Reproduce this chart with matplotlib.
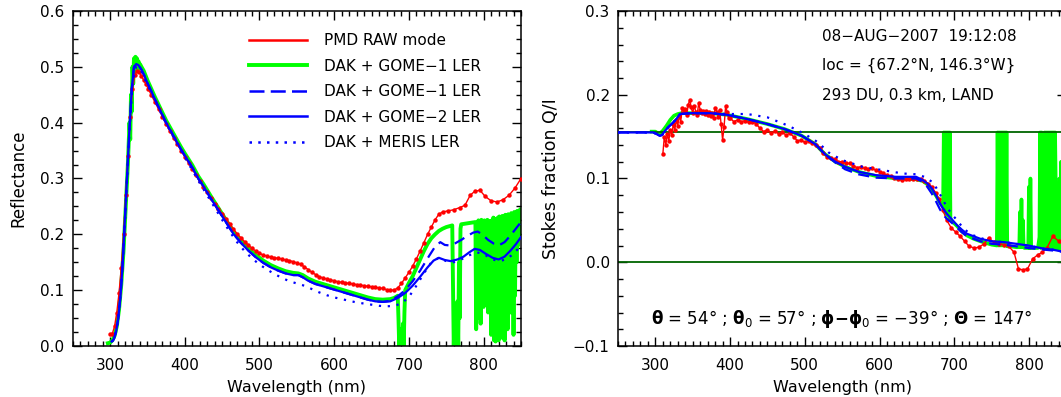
import numpy as np
import matplotlib
matplotlib.use("Agg")
import matplotlib.pyplot as plt
from matplotlib.ticker import MultipleLocator
from matplotlib.lines import Line2D

# ---------------- Left panel: reflectance ----------------
pmd_wl = [300, 303, 306, 309, 312, 315, 318, 321, 324, 327, 330, 333, 336, 339, 342, 345,
          348, 351, 355, 360, 365, 370, 375, 380, 385, 390, 395, 400, 405, 410, 415, 420,
          425, 430, 435, 440, 445, 450, 455, 460, 465, 470, 475, 480, 485, 490, 495, 500,
          505, 510, 515, 520, 525, 530, 535, 540, 545, 550, 555, 560, 565, 570, 575, 580,
          585, 590, 595, 600, 605, 610, 615, 620, 625, 630, 635, 640, 645, 650, 655, 660,
          665, 670, 675, 680, 685, 690, 695, 700, 705, 710, 715, 720, 725, 730, 735, 740,
          745, 752, 760, 768, 775, 782, 788, 795, 802, 810, 818, 826, 834, 842, 850]
pmd_refl = [0.022, 0.022, 0.035, 0.06, 0.095, 0.14, 0.2, 0.27, 0.34, 0.41, 0.46, 0.485, 0.492, 0.49, 0.484, 0.476,
            0.469, 0.461, 0.45, 0.437, 0.424, 0.411, 0.397, 0.385, 0.373, 0.361, 0.35, 0.339, 0.328, 0.317, 0.306, 0.295,
            0.285, 0.275, 0.265, 0.255, 0.246, 0.237, 0.228, 0.219, 0.21, 0.201, 0.194, 0.187, 0.181, 0.175, 0.17, 0.166,
            0.163, 0.161, 0.159, 0.158, 0.157, 0.156, 0.154, 0.153, 0.151, 0.149, 0.146, 0.142, 0.137, 0.132, 0.128, 0.124,
            0.122, 0.12, 0.118, 0.117, 0.115, 0.114, 0.113, 0.112, 0.111, 0.11, 0.109, 0.108, 0.107, 0.106, 0.105, 0.104,
            0.103, 0.101, 0.1, 0.1, 0.104, 0.112, 0.122, 0.132, 0.143, 0.156, 0.17, 0.185, 0.2, 0.213, 0.226, 0.236,
            0.24, 0.242, 0.244, 0.248, 0.252, 0.27, 0.277, 0.279, 0.268, 0.26, 0.258, 0.262, 0.27, 0.283, 0.3]

g1_wl = [297, 300, 303, 306, 309, 312, 315, 318, 321, 324, 326, 327, 328, 329, 330, 331, 332, 333, 334, 335,
         336, 337, 338, 339, 340, 342, 345, 350, 355, 360, 365, 370, 375, 380, 385, 390, 395, 400, 410, 418,
         425, 435, 445, 455, 465, 475, 485, 495, 505, 515, 525, 535, 545, 552, 558, 565, 575, 585, 595, 605,
         615, 625, 635, 645, 655, 665, 675, 680, 684, 685, 686, 687, 688, 689, 690, 691, 692, 693, 694, 695,
         700, 705, 710, 715, 720, 725, 730, 735, 740, 745, 750, 755, 758, 759, 760, 761, 762, 763, 764, 765,
         766, 767, 768, 769, 770, 775, 780, 785, 789,
         790, 791, 792, 793, 794, 795, 796, 797, 798, 799, 800, 801, 802, 803, 804, 805, 806, 807, 808, 809,
         810, 811, 812, 813, 814, 815, 816, 817, 818, 819, 820, 821, 822, 823, 824, 825, 826, 827, 828, 829,
         830, 831, 832, 833, 834, 835, 836, 837, 838, 839, 840, 841, 842, 843, 844, 845, 846, 847, 848, 849, 850]
g1_refl = [0.005, 0.006, 0.01, 0.018, 0.035, 0.065, 0.11, 0.17, 0.25, 0.33, 0.4, 0.37, 0.45, 0.42, 0.5, 0.47, 0.515, 0.49, 0.518, 0.5,
           0.515, 0.495, 0.51, 0.497, 0.505, 0.5, 0.493, 0.476, 0.461, 0.446, 0.432, 0.418, 0.404, 0.392, 0.38, 0.368, 0.356, 0.345, 0.324, 0.304,
           0.29, 0.268, 0.247, 0.226, 0.205, 0.189, 0.175, 0.163, 0.153, 0.145, 0.139, 0.134, 0.131, 0.13, 0.127, 0.121, 0.115, 0.111, 0.107, 0.103,
           0.099, 0.095, 0.091, 0.087, 0.084, 0.083, 0.084, 0.086, 0.089, 0.09, 0.05, 0.0, 0.03, 0.0, 0.01, 0.0, 0.04, 0.0, 0.06, 0.1,
           0.113, 0.125, 0.14, 0.155, 0.17, 0.183, 0.193, 0.2, 0.206, 0.21, 0.213, 0.215, 0.216, 0.1, 0.0, 0.05, 0.0, 0.02, 0.0, 0.08,
           0.0, 0.15, 0.05, 0.21, 0.218, 0.219, 0.22, 0.221, 0.222,
           0.03, 0.22, 0.05, 0.225, 0.09, 0.22, 0.04, 0.226, 0.15, 0.222, 0.07, 0.225, 0.12, 0.223, 0.18, 0.226, 0.06, 0.22, 0.1, 0.224,
           0.02, 0.225, 0.04, 0.23, 0.01, 0.228, 0.008, 0.226, 0.012, 0.23, 0.01, 0.232, 0.03, 0.228, 0.015, 0.233, 0.05, 0.23, 0.01, 0.235,
           0.08, 0.233, 0.03, 0.236, 0.1, 0.234, 0.06, 0.238, 0.12, 0.236, 0.02, 0.24, 0.09, 0.238, 0.15, 0.242, 0.18, 0.24, 0.2, 0.245, 0.23]

g2_wl = [302, 305, 308, 311, 314, 317, 320, 323, 326, 329, 332, 335, 338, 342, 346, 350, 355, 360, 365, 370,
         375, 380, 385, 390, 395, 400, 410, 418, 425, 435, 445, 455, 465, 475, 485, 495, 505, 515, 525, 535,
         545, 552, 558, 565, 575, 585, 595, 605, 615, 625, 635, 645, 655, 665, 675, 685, 695, 705, 715, 725,
         733, 740, 748, 756, 765, 773, 781, 788, 795, 803, 812, 820, 828, 836, 843, 850]
g2_refl = [0.008, 0.012, 0.025, 0.05, 0.09, 0.15, 0.23, 0.31, 0.39, 0.46, 0.5, 0.505, 0.503, 0.495, 0.484, 0.471, 0.457, 0.442, 0.428, 0.414,
           0.4, 0.388, 0.376, 0.364, 0.352, 0.341, 0.32, 0.3, 0.286, 0.264, 0.243, 0.222, 0.201, 0.185, 0.171, 0.159, 0.149, 0.141, 0.135, 0.13,
           0.127, 0.127, 0.123, 0.117, 0.111, 0.107, 0.103, 0.099, 0.095, 0.091, 0.087, 0.083, 0.08, 0.079, 0.08, 0.086, 0.095, 0.108, 0.124, 0.141,
           0.153, 0.158, 0.154, 0.152, 0.155, 0.16, 0.168, 0.174, 0.172, 0.165, 0.158, 0.155, 0.16, 0.171, 0.182, 0.195]

g1b_wl = [302, 305, 308, 311, 314, 317, 320, 323, 326, 329, 332, 335, 338, 342, 346, 350, 355, 360, 365, 370,
          375, 380, 385, 390, 395, 400, 410, 418, 425, 435, 445, 455, 465, 475, 485, 495, 505, 515, 525, 535,
          545, 552, 558, 565, 575, 585, 595, 605, 615, 625, 635, 645, 655, 665, 675, 685, 695, 705, 715, 725,
          735, 742, 748, 755, 762, 770, 778, 786, 792, 798, 806, 814, 820, 828, 836, 843, 850]
g1b_refl = [0.008, 0.012, 0.025, 0.05, 0.09, 0.15, 0.23, 0.31, 0.39, 0.46, 0.5, 0.505, 0.503, 0.495, 0.484, 0.471, 0.457, 0.442, 0.428, 0.414,
            0.4, 0.388, 0.376, 0.364, 0.352, 0.341, 0.32, 0.3, 0.286, 0.264, 0.243, 0.222, 0.201, 0.185, 0.171, 0.159, 0.149, 0.141, 0.135, 0.13,
            0.127, 0.127, 0.123, 0.117, 0.111, 0.107, 0.103, 0.099, 0.095, 0.091, 0.087, 0.083, 0.08, 0.079, 0.081, 0.089, 0.1, 0.116, 0.135, 0.157,
            0.178, 0.186, 0.181, 0.18, 0.184, 0.19, 0.197, 0.203, 0.205, 0.2, 0.19, 0.183, 0.18, 0.186, 0.198, 0.21, 0.222]

meris_wl = [302, 305, 310, 315, 320, 325, 330, 335, 340, 350, 360, 370, 380, 390, 400, 410, 420, 430, 440, 450,
            460, 470, 480, 490, 500, 510, 520, 530, 540, 550, 560, 570, 580, 590, 600, 610, 620, 630, 640, 650,
            660, 670, 680, 690, 700, 710, 720, 730, 740, 750, 760, 770, 780, 790, 800, 810, 820, 830, 840, 850]
meris_refl = [0.008, 0.01, 0.04, 0.11, 0.22, 0.36, 0.47, 0.5, 0.497, 0.468, 0.44, 0.412, 0.386, 0.362, 0.338, 0.315, 0.292, 0.27, 0.248, 0.226,
              0.205, 0.186, 0.17, 0.157, 0.146, 0.137, 0.129, 0.122, 0.116, 0.112, 0.108, 0.102, 0.096, 0.091, 0.087, 0.084, 0.081, 0.078, 0.076, 0.074,
              0.072, 0.071, 0.072, 0.076, 0.088, 0.108, 0.13, 0.15, 0.158, 0.152, 0.15, 0.155, 0.162, 0.168, 0.165, 0.156, 0.152, 0.155, 0.165, 0.18]

# ---------------- Right panel: Stokes fraction Q/I ----------------
pmd_q_wl = [310, 312, 314, 316, 318, 320, 322, 324, 326, 328, 330, 332, 334, 336, 338, 340, 342, 344, 346, 348,
            350, 352, 354, 356, 358, 360, 362, 364, 366, 368, 370, 372, 374, 376, 378, 380, 382, 384, 386, 388,
            390, 392, 394, 396, 398, 400, 405, 410, 415, 420, 425, 430, 435, 440, 445, 450, 455, 460, 465, 470,
            475, 480, 485, 490, 495, 500, 505, 510, 515, 520, 525, 530, 535, 540, 545, 550, 555, 560, 565, 570,
            575, 580, 585, 590, 595, 600, 605, 610, 615, 620, 625, 630, 635, 640, 645, 650, 655, 660, 665, 670,
            675, 680, 685, 690, 696, 702, 708, 714, 720, 727, 733, 740, 746, 753, 760, 767, 773, 780, 786, 792,
            798, 805, 812, 818, 824, 832, 840, 848]
pmd_q = [0.129, 0.15, 0.14, 0.153, 0.145, 0.158, 0.152, 0.165, 0.158, 0.17, 0.163, 0.175, 0.168, 0.184, 0.18, 0.183, 0.176, 0.188, 0.194, 0.185,
         0.178, 0.187, 0.18, 0.176, 0.19, 0.182, 0.178, 0.181, 0.177, 0.181, 0.176, 0.18, 0.175, 0.178, 0.172, 0.184, 0.18, 0.174, 0.182, 0.165,
         0.146, 0.162, 0.186, 0.18, 0.172, 0.172, 0.168, 0.17, 0.168, 0.169, 0.167, 0.168, 0.165, 0.16, 0.156, 0.158, 0.154, 0.157, 0.153, 0.155,
         0.152, 0.154, 0.15, 0.145, 0.146, 0.143, 0.145, 0.142, 0.14, 0.137, 0.13, 0.126, 0.124, 0.123, 0.12, 0.12, 0.118, 0.118, 0.115, 0.113,
         0.114, 0.112, 0.111, 0.112, 0.11, 0.108, 0.106, 0.104, 0.103, 0.101, 0.1, 0.098, 0.099, 0.1, 0.1, 0.1, 0.1, 0.097, 0.094, 0.09,
         0.083, 0.075, 0.062, 0.05, 0.041, 0.036, 0.031, 0.025, 0.019, 0.017, 0.018, 0.022, 0.029, 0.024, 0.022, 0.021, 0.019, 0.012, -0.008, -0.009,
         -0.008, 0.004, 0.009, 0.012, 0.017, 0.031, 0.025, 0.02]

q2_wl = [250, 297, 302, 306, 309, 313, 318, 324, 328, 333, 347, 374, 396, 423, 450, 473, 496, 514, 527, 541,
         554, 572, 595, 622, 649, 658, 664, 670, 676, 681, 686, 690, 697, 704, 710, 717, 726, 735, 750, 767,
         783, 799, 810, 821, 832, 843, 850]
q2_val = [0.155, 0.155, 0.153, 0.151, 0.152, 0.157, 0.162, 0.167, 0.171, 0.177, 0.178, 0.178, 0.176, 0.171, 0.165, 0.159, 0.151, 0.141, 0.129, 0.12,
          0.114, 0.108, 0.104, 0.102, 0.102, 0.098, 0.094, 0.088, 0.079, 0.07, 0.063, 0.058, 0.051, 0.044, 0.039, 0.034, 0.031, 0.028, 0.025, 0.024,
          0.022, 0.02, 0.018, 0.016, 0.015, 0.013, 0.012]

q1b_wl = [250, 297, 302, 306, 309, 313, 318, 324, 328, 333, 347, 374, 396, 423, 450, 473, 496, 514, 527, 541,
          554, 572, 595, 622, 649, 658, 664, 670, 676, 681, 686, 690, 697, 704, 710, 717, 726, 735, 750, 767,
          783, 799, 810, 821, 832, 843, 850]
q1b_val = [0.155, 0.155, 0.153, 0.151, 0.152, 0.157, 0.162, 0.167, 0.171, 0.177, 0.178, 0.178, 0.176, 0.171, 0.165, 0.159, 0.151, 0.141, 0.129, 0.119,
           0.111, 0.105, 0.101, 0.1, 0.1, 0.096, 0.09, 0.082, 0.072, 0.063, 0.056, 0.052, 0.047, 0.041, 0.036, 0.031, 0.028, 0.025, 0.022, 0.021,
           0.019, 0.017, 0.016, 0.015, 0.014, 0.013, 0.012]

qm_wl = [250, 297, 302, 306, 309, 313, 318, 324, 328, 333, 347, 374, 396, 423, 450, 478, 500, 518, 532, 550,
         577, 604, 631, 649, 660, 672, 681, 690, 697, 704, 710, 717, 726, 735, 750, 767, 783, 799, 810, 821,
         832, 843, 850]
qm_val = [0.155, 0.155, 0.153, 0.151, 0.152, 0.157, 0.162, 0.167, 0.171, 0.177, 0.178, 0.178, 0.177, 0.177, 0.173, 0.163, 0.153, 0.143, 0.131, 0.122,
          0.114, 0.11, 0.106, 0.105, 0.102, 0.095, 0.081, 0.066, 0.057, 0.05, 0.043, 0.037, 0.032, 0.029, 0.025, 0.024, 0.022, 0.02, 0.018, 0.016,
          0.015, 0.013, 0.012]

q1_wl = [295, 300, 305, 310, 315, 320, 325, 330, 335, 347, 374, 396, 423, 450, 473, 496, 514, 527, 541, 554,
         572, 595, 622, 649, 658, 664, 670, 676, 681, 685, 686, 687, 688, 689, 690, 691, 692, 693, 694, 695,
         697, 704, 710, 717, 726, 735, 750, 757, 758, 759, 760, 761, 762, 763, 764, 765, 766, 767, 768, 769,
         770, 771, 775, 783, 787, 788, 789, 790, 791, 792, 793, 794, 797, 799, 800, 801, 802, 803, 804, 808,
         812, 814, 815, 816, 817, 818, 819, 820, 821, 822, 823, 824, 825, 826, 827, 828, 829, 830, 831, 832,
         833, 834, 835, 837, 840, 841, 842, 843, 845, 846, 847, 850]
q1_val = [0.156, 0.156, 0.153, 0.157, 0.163, 0.17, 0.175, 0.177, 0.178, 0.178, 0.178, 0.176, 0.171, 0.165, 0.159, 0.151, 0.141, 0.129, 0.12, 0.114,
          0.108, 0.103, 0.1, 0.099, 0.097, 0.093, 0.087, 0.079, 0.071, 0.066, 0.155, 0.06, 0.155, 0.058, 0.155, 0.056, 0.155, 0.054, 0.155, 0.052,
          0.049, 0.043, 0.037, 0.032, 0.028, 0.025, 0.021, 0.02, 0.155, 0.02, 0.155, 0.02, 0.155, 0.02, 0.155, 0.02, 0.155, 0.02, 0.155, 0.02,
          0.155, 0.019, 0.019, 0.018, 0.018, 0.06, 0.018, 0.075, 0.018, 0.05, 0.018, 0.017, 0.017, 0.017, 0.09, 0.017, 0.1, 0.017, 0.017, 0.017,
          0.017, 0.03, 0.155, 0.017, 0.155, 0.02, 0.11, 0.017, 0.155, 0.05, 0.155, 0.016, 0.155, 0.03, 0.155, 0.016, 0.155, 0.08, 0.155, 0.016,
          0.155, 0.04, 0.155, 0.016, 0.015, 0.1, 0.015, 0.12, 0.015, 0.09, 0.014, 0.014]

ref_levels = [0.0, 0.155]

labels = ["PMD RAW mode", "DAK + GOME\u22121 LER", "DAK + GOME\u22121 LER",
          "DAK + GOME\u22122 LER", "DAK + MERIS LER"]
info_lines = ["08\u2212AUG\u22122007  19:12:08",
              "loc = {67.2\u00b0N, 146.3\u00b0W}",
              "293 DU, 0.3 km, LAND"]
angles_text = (r"$\mathbf{\theta}$ = 54$\degree$ ; $\mathbf{\theta}_0$ = 57$\degree$ ; "
               r"$\mathbf{\phi}\mathbf{-}\mathbf{\phi}_0$ = $-$39$\degree$ ; $\mathbf{\Theta}$ = 147$\degree$")

RED = "#ff0000"
GREEN = "#00ff00"
BLUE = "#0000ff"
DKGREEN = "#006400"

plt.rcParams["font.family"] = ["DejaVu Sans"]
plt.rcParams["mathtext.fontset"] = "dejavusans"
plt.rcParams["axes.unicode_minus"] = True

fig = plt.figure(figsize=(10.61, 3.97), dpi=100)
H = 397.0
W = 1061.0
top, bot = 11.0, 346.0
axw = 448.3
axL = fig.add_axes([72.7 / W, (H - bot) / H, axw / W, (bot - top) / H])
axR = fig.add_axes([618.0 / W, (H - bot) / H, axw / W, (bot - top) / H])

dash = (0, (5, 3))
dot = (0, (1, 3))

# left
axL.plot(g1_wl, g1_refl, color=GREEN, lw=2.8, zorder=2)
axL.plot(pmd_wl, pmd_refl, color=RED, lw=1.0, marker="o", ms=3.2, mew=0, zorder=3)
axL.plot(g1b_wl, g1b_refl, color=BLUE, lw=1.6, ls=dash, zorder=4)
axL.plot(g2_wl, g2_refl, color=BLUE, lw=1.6, zorder=4)
axL.plot(meris_wl, meris_refl, color=BLUE, lw=1.6, ls=dot, zorder=4)

handles = [Line2D([], [], color=RED, lw=1.8),
           Line2D([], [], color=GREEN, lw=2.8),
           Line2D([], [], color=BLUE, lw=1.8, ls=(0, (6, 2.5))),
           Line2D([], [], color=BLUE, lw=1.8),
           Line2D([], [], color=BLUE, lw=1.8, ls=(0, (1, 2.5)))]
leg = axL.legend(handles, labels, loc="upper left", bbox_to_anchor=(0.38, 0.952),
                 frameon=False, fontsize=11, handlelength=3.8, handletextpad=1.1,
                 labelspacing=0.69, borderaxespad=0)

axL.set_xlim(250, 850)
axL.set_ylim(0, 0.6)
axL.set_ylabel("Reflectance", fontsize=12, labelpad=9)
axL.set_xlabel("Wavelength (nm)", fontsize=11.5, labelpad=4.5)
axL.yaxis.set_major_locator(MultipleLocator(0.1))
axL.yaxis.set_minor_locator(MultipleLocator(0.025))

# right
axR.plot(q1_wl, q1_val, color=GREEN, lw=2.6, zorder=2)
for lv in ref_levels:
    axR.axhline(lv, color=DKGREEN, lw=1.3, zorder=2.5)
axR.plot(pmd_q_wl, pmd_q, color=RED, lw=1.0, marker="o", ms=3.2, mew=0, zorder=3)
axR.plot(q1b_wl, q1b_val, color=BLUE, lw=1.6, ls=dash, zorder=4)
axR.plot(q2_wl, q2_val, color=BLUE, lw=1.6, zorder=4)
axR.plot(qm_wl, qm_val, color=BLUE, lw=1.6, ls=dot, zorder=4)

axR.set_xlim(250, 850)
axR.set_ylim(-0.1, 0.3)
axR.set_ylabel("Stokes fraction Q/I", fontsize=12.5, labelpad=9)
axR.set_xlabel("Wavelength (nm)", fontsize=11.5, labelpad=4.5)
axR.yaxis.set_major_locator(MultipleLocator(0.1))
axR.yaxis.set_minor_locator(MultipleLocator(0.02))

for i, t in enumerate(info_lines):
    axR.text(0.455, 0.925 - i * 0.088, t, transform=axR.transAxes, fontsize=11,
             ha="left", va="center")
axR.text(0.50, 0.08, angles_text, transform=axR.transAxes, fontsize=12,
         ha="center", va="center")

for ax in (axL, axR):
    ax.xaxis.set_major_locator(MultipleLocator(100))
    ax.xaxis.set_minor_locator(MultipleLocator(10))
    ax.tick_params(which="both", direction="in", top=True, right=True, width=1.0)
    ax.tick_params(axis="x", which="major", labelsize=11, pad=9)
    ax.tick_params(axis="y", which="major", labelsize=11, pad=6)
    ax.tick_params(which="major", length=6.5)
    ax.tick_params(which="minor", length=3.3)
    for s in ax.spines.values():
        s.set_linewidth(1.1)

fig.savefig("out.png", dpi=100)
